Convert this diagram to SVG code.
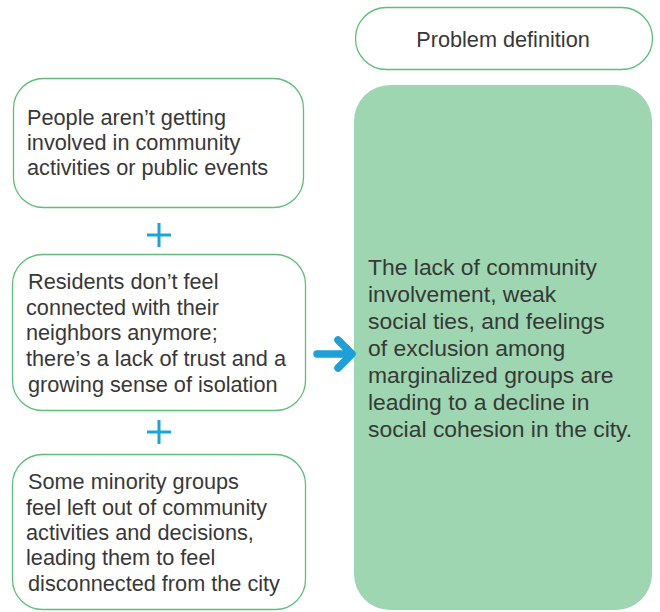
<svg xmlns="http://www.w3.org/2000/svg" width="660" height="612" viewBox="0 0 660 612">
<style>
.box{fill:#fff;stroke:#5dbf79;stroke-width:1.3}
.t{font-family:"Liberation Sans",Arial,sans-serif;font-size:21.7px;fill:#383838}
.g{font-family:"Liberation Sans",Arial,sans-serif;font-size:22.9px;fill:#383838}
.plus{stroke:#1ba3dc;stroke-width:3;fill:none}
</style>
<rect width="660" height="612" fill="#fff"/>
<g id="header">
<rect class="box" x="355.5" y="7.5" width="297" height="62" rx="31"/>
<text class="t" x="503" y="47" text-anchor="middle" font-size="20">Problem definition</text>
</g>
<g id="box1">
<rect class="box" x="13.5" y="78.5" width="290" height="129" rx="30"/>
<text class="t"><tspan x="27" y="125">People aren’t getting</tspan><tspan x="27" y="150">involved in community</tspan><tspan x="27" y="175">activities or public events</tspan></text>
</g>
<g id="box2">
<rect class="box" x="12.5" y="254.5" width="293" height="156" rx="30"/>
<text class="t"><tspan x="28" y="289">Residents don’t feel</tspan><tspan x="26" y="315">connected with their</tspan><tspan x="26" y="340">neighbors anymore;</tspan><tspan x="26" y="366">there’s a lack of trust and a</tspan><tspan x="28" y="392">growing sense of isolation</tspan></text>
</g>
<g id="box3">
<rect class="box" x="12.5" y="454.5" width="293" height="155" rx="30"/>
<text class="t"><tspan x="28" y="489">Some minority groups</tspan><tspan x="26" y="515">feel left out of community</tspan><tspan x="26" y="540">activities and decisions,</tspan><tspan x="26" y="565">leading them to feel</tspan><tspan x="28" y="591">disconnected from the city</tspan></text>
</g>
<g id="definition">
<rect x="354" y="85" width="298" height="525" rx="36" fill="#9dd6b0"/>
<text class="g"><tspan x="368" y="275">The lack of community</tspan><tspan x="368" y="302">involvement, weak</tspan><tspan x="368" y="329">social ties, and feelings</tspan><tspan x="368" y="356">of exclusion among</tspan><tspan x="368" y="383">marginalized groups are</tspan><tspan x="368" y="410">leading to a decline in</tspan><tspan x="368" y="437">social cohesion in the city.</tspan></text>
</g>
<g id="connectors">
<path class="plus" d="M147 235H171M159 223V247"/>
<path class="plus" d="M147 432H171M159 420V444"/>
<path d="M317 354H349M338 340L352 354L338 368" stroke="#1e9fd8" stroke-width="7.5" fill="none" stroke-linecap="round" stroke-linejoin="round"/>
</g>
</svg>
